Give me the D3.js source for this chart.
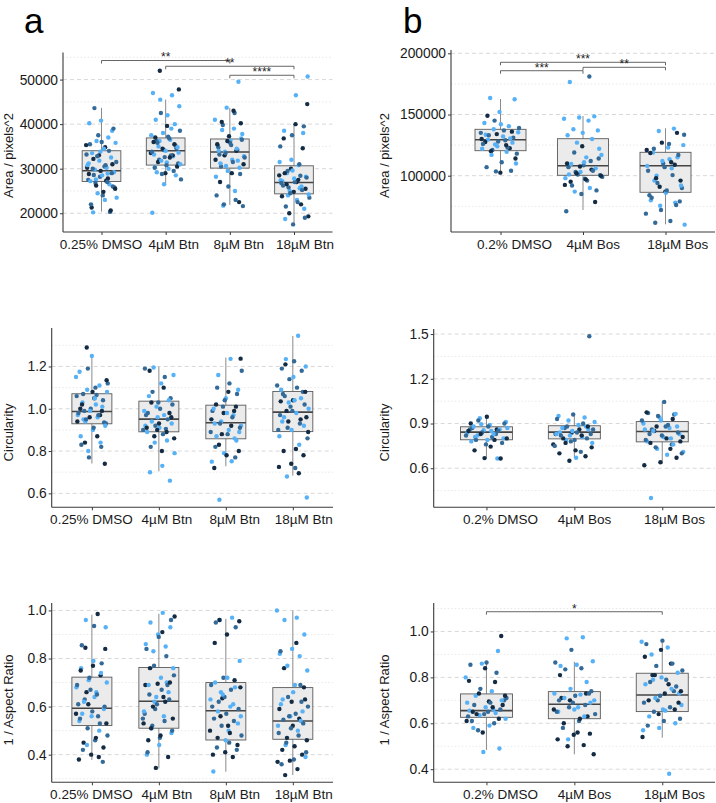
<!DOCTYPE html>
<html><head><meta charset="utf-8">
<script src="https://cdn.jsdelivr.net/npm/d3@7"></script>
<style>body{margin:0;background:#fff}svg{display:block}text{font-family:"Liberation Sans",Arial,Helvetica,sans-serif}</style>
</head><body><svg id="c" width="716" height="803"></svg>
<script>
// ---------- categories ----------
const catsA = ["0.25% DMSO", "4µM Btn", "8µM Btn", "18µM Btn"];
const catsB = ["0.2% DMSO", "4µM Bos", "18µM Bos"];
const repColors = ["#132B43", "#336A98", "#56B1F7"]; // replicate 1,2,3

// ---------- y ticks ----------
const ticksAreaA = [20000, 30000, 40000, 50000];
const minorAreaA = [25000, 35000, 45000, 55000];
const ticksAreaB = [100000, 150000, 200000];
const minorAreaB = [75000, 125000, 175000];
const ticksCircA = [0.6, 0.8, 1.0, 1.2];
const minorCircA = [0.7, 0.9, 1.1, 1.3];
const ticksCircB = [0.6, 0.9, 1.2, 1.5];
const minorCircB = [0.45, 0.75, 1.05, 1.35];
const ticksArA = [0.4, 0.6, 0.8, 1.0];
const minorArA = [0.3, 0.5, 0.7, 0.9];
const ticksArB = [0.4, 0.6, 0.8, 1.0];
const minorArB = [0.5, 0.7, 0.9, 1.1];

// ---------- box stats [whiskerLow, q1, median, q3, whiskerHigh] ----------
const boxAreaA = [[20360, 27120, 29530, 34030, 43650], [26400, 30810, 34030, 36900, 45520], [21870, 30130, 33730, 36670, 43650], [17590, 24350, 26890, 30650, 39660]];
const boxAreaB = [[101960, 120430, 129410, 137900, 162660], [71980, 100330, 108170, 130230, 148770], [60290, 86440, 108170, 119120, 138730]];
const boxCircA = [[0.741, 0.929, 0.987, 1.071, 1.254], [0.704, 0.891, 0.951, 1.036, 1.199], [0.728, 0.858, 0.934, 1.017, 1.242], [0.684, 0.892, 0.984, 1.082, 1.344]];
const boxCircB = [[0.663, 0.791, 0.842, 0.878, 0.942], [0.670, 0.797, 0.842, 0.885, 0.967], [0.630, 0.777, 0.846, 0.913, 1.046]];
const boxArA = [[0.378, 0.521, 0.593, 0.7225, 0.982], [0.343, 0.510, 0.622, 0.7625, 0.986], [0.329, 0.461, 0.583, 0.700, 0.965], [0.315, 0.464, 0.540, 0.679, 1.0]];
const boxArB = [[0.484, 0.626, 0.655, 0.728, 0.864], [0.465, 0.620, 0.683, 0.738, 0.868], [0.537, 0.651, 0.723, 0.818, 0.966]];

// ---------- points per group: [replicate1 (dark), replicate2 (mid), replicate3 (light)] ----------
const ptsAreaA = [
  [[35300, 34800, 32200, 31000, 29500, 28800, 27800, 26200, 25500, 24800, 21300, 20600, 33000, 30200, 27300],
   [43600, 39000, 36000, 35500, 34000, 32800, 31500, 30500, 30000, 29000, 28200, 27500, 27000, 26800, 25800, 24000, 22000, 20300, 37500, 33200, 30800, 28600, 26000],
   [40800, 40200, 37000, 36200, 35800, 34500, 33500, 32500, 31800, 30800, 30200, 29800, 29200, 28500, 27200, 26500, 24500, 23500, 23000, 20200, 38500, 33800, 31200, 28900, 27600]],
  [[52000, 47800, 39600, 37000, 35500, 34500, 33500, 32500, 31500, 30500, 29000, 36000, 33000],
   [42500, 38500, 37200, 36200, 35200, 34200, 33800, 33000, 32000, 31200, 30800, 30200, 29500, 28800, 27600, 36800, 35800, 34600, 32600],
   [47000, 46500, 45500, 44000, 42000, 41000, 40000, 38000, 37500, 36500, 35000, 34800, 34000, 33200, 32800, 31800, 31000, 30000, 29200, 28500, 26500, 20100, 39000, 36200, 33600, 31400, 30400]],
  [[43000, 40500, 40200, 37300, 35500, 34000, 33000, 31000, 29000, 27000, 22500, 36200, 32000],
   [42500, 39800, 36500, 35800, 34800, 34200, 33500, 32500, 31500, 30500, 28800, 26000, 24000, 23000, 22000, 21600, 35300, 33200],
   [49500, 43700, 41000, 39000, 38700, 36800, 36000, 35200, 34500, 33800, 32800, 32000, 31200, 30200, 29500, 28200, 25000, 21700, 37800, 36300, 34000, 31800, 30600]],
  [[44500, 40000, 36800, 34600, 30000, 28500, 27500, 26500, 25500, 24800, 23800, 22000, 20000, 19300, 27000, 29000],
   [39500, 37500, 35000, 31000, 29500, 28000, 27000, 26200, 25200, 24500, 23500, 22500, 21500, 19000, 17500, 26800, 28400, 25800],
   [50700, 46500, 38500, 38000, 32000, 31500, 30800, 29000, 28200, 27800, 27200, 26000, 25000, 24200, 23000, 18700, 21000, 29600, 27400, 25600, 24000]]
];
const ptsAreaB = [
  [[149000, 136000, 134000, 130000, 125000, 120000, 114000, 102500, 127500, 122500],
   [145000, 139000, 137000, 133000, 131000, 128000, 126000, 123000, 121000, 118000, 111000, 107000, 104000, 103500, 135000, 129000],
   [163500, 162500, 152000, 143000, 140500, 138000, 135500, 132000, 129500, 127000, 124000, 122000, 119500, 117000, 110000, 142000, 133500, 130500, 125500]],
  [[124000, 110000, 105000, 102000, 100000, 97000, 95000, 78500, 107500, 92500],
   [181000, 119000, 114000, 108500, 107000, 104000, 101000, 99000, 96000, 92000, 88000, 85000, 71000, 112000, 103000, 100500, 97500],
   [176500, 148500, 147500, 146500, 145000, 138000, 137000, 135000, 133000, 130000, 127000, 117000, 115000, 109500, 106000, 103000, 98000, 90000, 87000, 122000, 111000, 101000]],
  [[135000, 127000, 121000, 111000, 98000, 96000, 87000, 118500, 109000, 91000],
   [133500, 126000, 122000, 117000, 110000, 104000, 100500, 94000, 90000, 88000, 82000, 76000, 72000, 69000, 63000, 61500, 79000, 107000, 84000],
   [138500, 136500, 125000, 123000, 119000, 115000, 112000, 108000, 106000, 100000, 92000, 86000, 80000, 78000, 75500, 60000, 113500, 96000]]
];
const ptsCircA = [
  [[1.29, 1.135, 1.05, 1.02, 0.99, 0.96, 0.94, 0.87, 0.84, 0.74, 1.08, 1.00, 0.97],
   [1.19, 1.12, 1.10, 1.07, 1.04, 1.00, 0.98, 0.97, 0.95, 0.93, 0.91, 0.83, 0.82, 0.77, 1.06, 1.065, 0.99, 0.935],
   [1.25, 1.175, 1.11, 1.09, 1.08, 1.05, 1.03, 1.01, 0.99, 0.97, 0.96, 0.94, 0.92, 0.90, 0.87, 0.84, 0.80, 1.15, 1.02, 0.95]],
  [[1.10, 1.03, 0.96, 0.93, 0.91, 0.89, 0.87, 0.86, 0.80, 1.18, 0.98, 0.90],
   [1.19, 1.15, 1.08, 1.02, 1.00, 0.98, 0.95, 0.92, 0.90, 0.88, 0.82, 1.05, 1.03, 0.97, 0.905],
   [1.195, 1.16, 1.12, 1.06, 1.04, 1.01, 0.99, 0.97, 0.94, 0.93, 0.91, 0.89, 0.85, 0.84, 0.79, 0.73, 0.70, 0.66, 0.96, 0.92]],
  [[1.237, 1.08, 1.02, 1.01, 0.98, 0.95, 0.92, 0.83, 0.80, 0.78, 0.72, 0.99, 0.88],
   [1.18, 1.12, 1.10, 1.07, 1.04, 0.99, 0.96, 0.93, 0.91, 0.88, 0.82, 0.77, 1.01, 0.89],
   [1.236, 1.16, 1.09, 1.05, 1.00, 0.97, 0.94, 0.92, 0.90, 0.87, 0.85, 0.79, 0.75, 0.752, 0.57, 0.89, 0.98, 0.93, 0.86]],
  [[1.21, 1.08, 1.04, 1.035, 0.95, 0.94, 0.89, 0.81, 0.80, 0.78, 0.74, 0.725, 0.695, 0.99, 0.96],
   [1.225, 1.19, 1.18, 1.14, 1.11, 1.10, 1.06, 1.02, 0.99, 0.97, 0.93, 0.91, 0.86, 0.72, 1.07, 1.08, 1.01, 0.90],
   [1.345, 1.235, 1.20, 1.15, 1.09, 1.05, 1.03, 1.00, 0.98, 0.96, 0.92, 0.90, 0.87, 0.83, 0.68, 0.58, 1.04, 0.94]]
];
const ptsCircB = [
  [[0.945, 0.90, 0.86, 0.83, 0.80, 0.745, 0.72, 0.665, 0.668, 0.85, 0.79],
   [0.92, 0.90, 0.88, 0.87, 0.85, 0.84, 0.82, 0.81, 0.79, 0.77, 0.76, 0.86, 0.83],
   [0.935, 0.91, 0.89, 0.88, 0.86, 0.855, 0.84, 0.83, 0.82, 0.80, 0.79, 0.78, 0.665, 0.895, 0.87, 0.85, 0.81]],
  [[0.88, 0.84, 0.83, 0.82, 0.77, 0.74, 0.72, 0.70, 0.68, 0.65, 0.76, 0.86, 0.80],
   [1.485, 0.96, 0.93, 0.90, 0.88, 0.86, 0.84, 0.82, 0.80, 0.78, 0.75, 0.71, 0.87, 0.83, 0.79],
   [0.95, 0.94, 0.92, 0.91, 0.89, 0.87, 0.86, 0.85, 0.83, 0.81, 0.79, 0.77, 0.67, 0.84, 0.88, 0.82]],
  [[0.975, 0.93, 0.88, 0.81, 0.80, 0.77, 0.67, 0.64, 0.62, 0.73, 0.85, 0.78],
   [1.045, 0.97, 0.96, 0.95, 0.92, 0.89, 0.86, 0.84, 0.82, 0.79, 0.76, 0.74, 0.70, 0.88, 0.83],
   [0.965, 0.94, 0.90, 0.87, 0.85, 0.83, 0.81, 0.78, 0.76, 0.73, 0.71, 0.69, 0.40, 0.88, 0.92, 0.86, 0.80]]
];
const ptsArA = [
  [[0.985, 0.845, 0.84, 0.77, 0.75, 0.73, 0.61, 0.57, 0.47, 0.45, 0.43, 0.40, 0.38, 0.39, 0.66, 0.53],
   [0.935, 0.855, 0.78, 0.72, 0.69, 0.65, 0.63, 0.60, 0.58, 0.55, 0.53, 0.51, 0.48, 0.46, 0.42, 0.37, 0.67, 0.61, 0.56],
   [0.96, 0.93, 0.79, 0.76, 0.74, 0.71, 0.68, 0.66, 0.62, 0.59, 0.56, 0.54, 0.50, 0.44, 0.70, 0.64, 0.57]],
  [[0.975, 0.91, 0.76, 0.70, 0.695, 0.69, 0.62, 0.60, 0.55, 0.48, 0.46, 0.39, 0.345, 0.53, 0.64, 0.51],
   [0.96, 0.89, 0.84, 0.81, 0.77, 0.73, 0.67, 0.65, 0.63, 0.61, 0.57, 0.54, 0.52, 0.50, 0.47, 0.41, 0.69, 0.59, 0.55],
   [0.99, 0.95, 0.93, 0.90, 0.86, 0.85, 0.83, 0.76, 0.72, 0.69, 0.66, 0.64, 0.58, 0.56, 0.51, 0.49, 0.44, 0.40, 0.70, 0.62]],
  [[0.96, 0.955, 0.90, 0.865, 0.71, 0.635, 0.50, 0.49, 0.47, 0.44, 0.41, 0.40, 0.39, 0.56, 0.68, 0.52],
   [0.95, 0.93, 0.72, 0.69, 0.67, 0.62, 0.59, 0.57, 0.55, 0.54, 0.52, 0.48, 0.45, 0.43, 0.42, 0.64, 0.60],
   [0.97, 0.96, 0.79, 0.72, 0.70, 0.68, 0.65, 0.63, 0.60, 0.58, 0.53, 0.46, 0.33, 0.61, 0.66, 0.56, 0.50]],
  [[0.865, 0.76, 0.68, 0.62, 0.59, 0.55, 0.47, 0.46, 0.435, 0.42, 0.40, 0.375, 0.37, 0.34, 0.315, 0.63, 0.52],
   [0.83, 0.69, 0.64, 0.60, 0.57, 0.545, 0.53, 0.51, 0.49, 0.48, 0.45, 0.41, 0.38, 0.36, 0.62, 0.56],
   [1.0, 0.97, 0.96, 0.90, 0.84, 0.82, 0.81, 0.77, 0.75, 0.69, 0.63, 0.58, 0.56, 0.52, 0.50, 0.44, 0.39, 0.66, 0.61, 0.54]]
];
const ptsArB = [
  [[0.98, 0.84, 0.785, 0.78, 0.73, 0.72, 0.695, 0.65, 0.62, 0.56, 0.61, 0.67, 0.64, 0.68],
   [0.865, 0.855, 0.82, 0.75, 0.71, 0.69, 0.68, 0.66, 0.64, 0.63, 0.60, 0.57, 0.70, 0.65, 0.61],
   [0.915, 0.86, 0.80, 0.74, 0.72, 0.70, 0.67, 0.655, 0.645, 0.635, 0.62, 0.59, 0.58, 0.49, 0.475, 0.69, 0.66]],
  [[0.81, 0.73, 0.70, 0.66, 0.62, 0.60, 0.555, 0.55, 0.53, 0.505, 0.50, 0.465, 0.56, 0.71, 0.63],
   [0.92, 0.865, 0.84, 0.835, 0.74, 0.72, 0.70, 0.68, 0.67, 0.64, 0.61, 0.58, 0.73, 0.69, 0.65],
   [0.975, 0.97, 0.87, 0.855, 0.85, 0.78, 0.75, 0.73, 0.725, 0.71, 0.69, 0.66, 0.65, 0.63, 0.53, 0.70, 0.67]],
  [[0.92, 0.89, 0.86, 0.81, 0.74, 0.73, 0.70, 0.66, 0.64, 0.54, 0.77, 0.81, 0.69],
   [0.96, 0.945, 0.86, 0.85, 0.83, 0.79, 0.78, 0.76, 0.72, 0.69, 0.67, 0.65, 0.62, 0.61, 0.59, 0.74, 0.70],
   [0.955, 0.93, 0.90, 0.82, 0.80, 0.77, 0.75, 0.71, 0.68, 0.655, 0.63, 0.60, 0.58, 0.57, 0.38, 0.79, 0.73, 0.66]]
];

// ---------- significance brackets [fromIndex, toIndex, yValue, label] ----------
const sigAreaA = [[0, 2, 54280, "**"], [1, 3, 52990, "**"], [2, 3, 50970, "****"]];
const sigAreaB = [[0, 2, 192650, "***"], [1, 2, 188560, "**"], [0, 1, 185780, "***"]];
const sigArB = [[0, 2, 1.086, "*"]];

// ---------- layout ----------
const svg = d3.select("#c");
svg.append("rect").attr("width", 716).attr("height", 803).attr("fill", "#fff");

const labShiftA = [-1, 7.5, 8.5, 10.5];
const labShiftB = [13.5, 9.7, 11.7];

const panels = [
  {cats: catsA, box: boxAreaA, pts: ptsAreaA, major: ticksAreaA, minor: minorAreaA, fmt: d3.format("d"), sig: sigAreaA, shift: labShiftA,
   L: 63, R: 332.5, T: 52.5, B: 232, dom: [15790, 56080], ylab: "Area / pixels^2", lx: 8.5, ly: 155.5, bw: 38.7},
  {cats: catsB, box: boxAreaB, pts: ptsAreaB, major: ticksAreaB, minor: minorAreaB, fmt: d3.format("d"), sig: sigAreaB, shift: labShiftB,
   L: 451, R: 715, T: 50, B: 232, dom: [54000, 202700], ylab: "Area / pixels^2", lx: 384.5, ly: 155.5, bw: 51},
  {cats: catsA, box: boxCircA, pts: ptsCircA, major: ticksCircA, minor: minorCircA, fmt: d3.format(".1f"), sig: [], shift: labShiftA,
   L: 51.7, R: 333, T: 328, B: 507.3, dom: [0.534, 1.382], ylab: "Circularity", lx: 8.5, ly: 432.5, bw: 40},
  {cats: catsB, box: boxCircB, pts: ptsCircB, major: ticksCircB, minor: minorCircB, fmt: d3.format(".1f"), sig: [], shift: labShiftB,
   L: 433.7, R: 715, T: 329, B: 507.3, dom: [0.338, 1.534], ylab: "Circularity", lx: 384.5, ly: 432.5, bw: 52},
  {cats: catsA, box: boxArA, pts: ptsArA, major: ticksArA, minor: minorArA, fmt: d3.format(".1f"), sig: [], shift: labShiftA,
   L: 51.7, R: 333, T: 603, B: 782.3, dom: [0.285, 1.031], ylab: "1 / Aspect Ratio", lx: 8.5, ly: 700, bw: 40},
  {cats: catsB, box: boxArB, pts: ptsArB, major: ticksArB, minor: minorArB, fmt: d3.format(".1f"), sig: sigArB, shift: labShiftB,
   L: 433.7, R: 715, T: 603, B: 782.3, dom: [0.343, 1.124], ylab: "1 / Aspect Ratio", lx: 384.5, ly: 700, bw: 52}
];

panels.forEach((p, pi) => {
  const g = svg.append("g");
  const x = d3.scalePoint().domain(p.cats).range([p.L, p.R]).padding(0.6);
  const y = d3.scaleLinear().domain(p.dom).range([p.B, p.T]);
  const step = x.step();

  // grid
  g.selectAll(".gmin").data(p.minor).join("line")
    .attr("x1", p.L).attr("x2", p.R).attr("y1", d => y(d)).attr("y2", d => y(d))
    .attr("stroke", "#e3e3e3").attr("stroke-width", 0.8).attr("stroke-dasharray", "1.5,2");
  g.selectAll(".gmaj").data(p.major).join("line")
    .attr("x1", p.L).attr("x2", p.R).attr("y1", d => y(d)).attr("y2", d => y(d))
    .attr("stroke", "#d4d4d4").attr("stroke-width", 0.9).attr("stroke-dasharray", "4,3");

  // boxes
  p.box.forEach((b, i) => {
    const cx = x(p.cats[i]);
    g.append("line").attr("x1", cx).attr("x2", cx).attr("y1", y(b[0])).attr("y2", y(b[4]))
      .attr("stroke", "#8a8a8a").attr("stroke-width", 1);
    g.append("rect").attr("x", cx - p.bw / 2).attr("width", p.bw)
      .attr("y", y(b[3])).attr("height", y(b[1]) - y(b[3]))
      .attr("fill", "#ebebeb").attr("stroke", "#5a5a5a").attr("stroke-width", 0.9);
    g.append("line").attr("x1", cx - p.bw / 2).attr("x2", cx + p.bw / 2).attr("y1", y(b[2])).attr("y2", y(b[2]))
      .attr("stroke", "#444").attr("stroke-width", 1.6);
  });

  // points (deterministic jitter)
  p.pts.forEach((grp, i) => {
    const cx = x(p.cats[i]);
    const list = [];
    let k = 0;
    grp.forEach((vals, rep) => vals.forEach(v => { list.push({v, rep, k: k++}); }));
    list.forEach(d => {
      const u = ((d.k * 0.6180339887 + i * 0.31 + pi * 0.17) % 1);
      d.jx = (u - 0.5) * 2 * step * 0.24;
      d.ord = ((d.k * 0.7548776662 + 0.5) % 1);
    });
    list.sort((a, b) => a.ord - b.ord);
    g.selectAll(null).data(list).join("circle")
      .attr("cx", d => cx + d.jx).attr("cy", d => y(d.v)).attr("r", 2.2)
      .attr("fill", d => repColors[d.rep]);
  });

  // axes
  const ya = d3.axisLeft(y).tickValues(p.major).tickFormat(p.fmt).tickSize(3).tickSizeOuter(0).tickPadding(2);
  const yg = g.append("g").attr("transform", `translate(${p.L},0)`).call(ya);
  yg.select(".domain").attr("d", `M0,${p.T}V${p.B}`).attr("stroke", "#3a3a3a").attr("stroke-width", 1.1);
  yg.selectAll(".tick line").attr("stroke", "#3a3a3a");
  yg.selectAll(".tick text").attr("font-size", 13.8).attr("fill", "#1a1a1a").attr("font-family", '"Liberation Sans",Arial,sans-serif');

  const xa = d3.axisBottom(x).tickSize(3).tickSizeOuter(0).tickPadding(4);
  const xg = g.append("g").attr("transform", `translate(0,${p.B})`).call(xa);
  xg.select(".domain").attr("d", `M${p.L},0H${p.R}`).attr("stroke", "#3a3a3a").attr("stroke-width", 1.1);
  xg.selectAll(".tick line").attr("stroke", "#3a3a3a");
  xg.selectAll(".tick text").attr("font-size", 13.5).attr("fill", "#1a1a1a")
    .attr("dx", (d, i) => p.shift[i]).attr("font-family", '"Liberation Sans",Arial,sans-serif');

  // y label
  g.append("text").attr("transform", `translate(${p.lx},${p.ly}) rotate(-90)`)
    .attr("text-anchor", "middle").attr("dominant-baseline", "central")
    .attr("font-size", 13).attr("fill", "#1a1a1a").text(p.ylab);

  // significance
  p.sig.forEach(s => {
    const x1 = x(p.cats[s[0]]), x2 = x(p.cats[s[1]]);
    const yy = y(s[2]);
    const dy = 3;
    g.append("path").attr("d", `M${x1},${yy + dy}V${yy}H${x2}V${yy + dy}`)
      .attr("fill", "none").attr("stroke", "#555").attr("stroke-width", 0.9);
    g.append("text").attr("x", (x1 + x2) / 2).attr("y", yy + 0.8).attr("text-anchor", "middle")
      .attr("font-size", 12).attr("fill", "#222").text(s[3]);
  });
});

// panel letters
svg.append("text").attr("x", 24).attr("y", 32.5).attr("font-size", 35).attr("fill", "#000").text("a");
svg.append("text").attr("x", 403).attr("y", 32.5).attr("font-size", 35).attr("fill", "#000").text("b");
</script>
</body></html>
